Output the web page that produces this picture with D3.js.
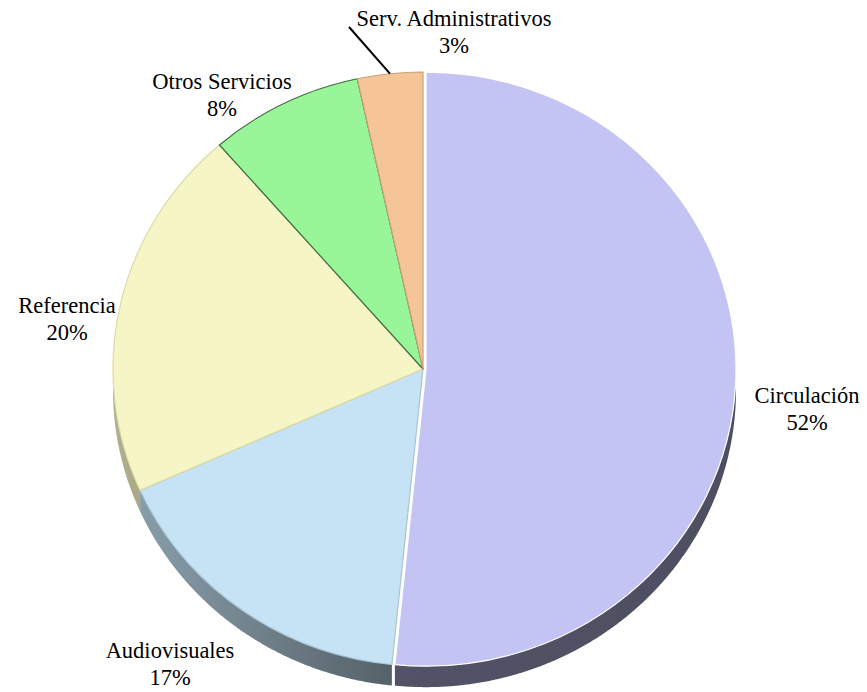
<!DOCTYPE html>
<html>
<head>
<meta charset="utf-8">
<script src="https://cdn.jsdelivr.net/npm/d3@7"></script>
<style>
  html, body { margin: 0; padding: 0; background: #ffffff; }
  svg { display: block; }
</style>
</head>
<body>
<svg id="chart" width="867" height="692"></svg>
<script>
// ---- data ----
const categories = ["Circulación", "Audiovisuales", "Referencia", "Otros Servicios", "Serv. Administrativos"];
const values = [51.6, 16.7, 20.3, 8.0, 3.4];
const percentLabels = ["52%", "17%", "20%", "8%", "3%"];
const colors = ["#c4c4f4", "#c5e3f4", "#f5f5c5", "#98f598", "#f5c598"];
const edgeColors = ["#ffffff", "#a9c3d3", "#dcdba6", "#3f6a3f", "#c9a07a"];

// ---- layout ----
const svg = d3.select("#chart");
const cx = 423, cy = 369, rx = 310, ry = 297, depth = 21;
const explodeIdx = 0, explodeDist = 3;
const FONT = "'Liberation Serif', 'DejaVu Serif', 'Times New Roman', serif";

const pie = d3.pie().sort(null).value(d => d.v).startAngle(0).endAngle(2 * Math.PI);
const data = categories.map((c, i) => ({ name: c, v: values[i], pct: percentLabels[i], color: colors[i], edge: edgeColors[i], i }));
const arcs = pie(data);

function offset(d) {
  if (d.data.i !== explodeIdx) return [0, 0];
  const mid = (d.startAngle + d.endAngle) / 2;
  return [explodeDist * Math.sin(mid), -explodeDist * Math.cos(mid)];
}

// shading factor for side walls (light from the left)
const shade = d3.scaleLinear().domain([cx - rx, 400, cx + rx]).range([0.72, 0.42, 0.40]).clamp(true);
function scaleColor(c, k) {
  const col = d3.rgb(c);
  return d3.rgb(col.r * k, col.g * k, col.b * k).formatHex();
}

const defs = svg.append("defs");
arcs.forEach((d, i) => {
  const g = defs.append("linearGradient").attr("id", "side" + i)
    .attr("gradientUnits", "userSpaceOnUse")
    .attr("x1", cx - rx).attr("x2", cx + rx).attr("y1", 0).attr("y2", 0);
  d3.range(0, 1.0001, 0.05).forEach(t => {
    const x = cx - rx + t * 2 * rx;
    g.append("stop").attr("offset", t).attr("stop-color", scaleColor(d.data.color, shade(x)));
  });
});

// ---- side walls ----
const sideG = svg.append("g");
arcs.forEach((d, i) => {
  const a0 = Math.max(d.startAngle, Math.PI / 2);
  const a1 = Math.min(d.endAngle, 3 * Math.PI / 2);
  if (a1 <= a0) return;
  const [ox, oy] = offset(d);
  const angles = d3.range(a0, a1, 0.005).concat([a1]);
  const top = angles.map(a => [cx + ox + rx * Math.sin(a), cy + oy - ry * Math.cos(a)]);
  const bottom = angles.slice().reverse().map(a => [cx + ox + rx * Math.sin(a), cy + oy + depth - ry * Math.cos(a)]);
  sideG.append("path")
    .attr("d", d3.line()(top.concat(bottom)) + "Z")
    .attr("fill", "url(#side" + i + ")");
});

// ---- top faces ----
const arc = d3.arc().innerRadius(0).outerRadius(rx);
const topG = svg.append("g");
arcs.forEach((d, i) => {
  const [ox, oy] = offset(d);
  topG.append("path")
    .attr("transform", `translate(${cx + ox},${cy + oy}) scale(1,${ry / rx})`)
    .attr("d", arc(d))
    .attr("fill", d.data.color)
    .attr("stroke", d.data.edge)
    .attr("stroke-width", 1.2)
    .attr("vector-effect", "non-scaling-stroke")
    .attr("stroke-linejoin", "round");
});

// ---- labels ----
const labelPos = [
  { x: 807, y: 403 },
  { x: 170, y: 658 },
  { x: 67, y: 313 },
  { x: 222, y: 89 },
  { x: 454, y: 26 }
];
const fs = 22.5, lh = 26.5;
const lblG = svg.append("g");
arcs.forEach((d, i) => {
  const p = labelPos[i];
  const t = lblG.append("text")
    .attr("text-anchor", "middle")
    .attr("font-family", FONT)
    .attr("font-size", fs)
    .attr("fill", "#000");
  t.append("tspan").attr("x", p.x).attr("y", p.y).text(d.data.name);
  t.append("tspan").attr("x", p.x).attr("y", p.y + lh).text(d.data.pct);
});

// leader line for the small slice
const small = arcs[4];
const midS = (small.startAngle + small.endAngle) / 2;
const lx1 = cx + rx * Math.sin(midS), ly1 = cy - ry * Math.cos(midS);
svg.append("line")
  .attr("x1", 349).attr("y1", 27)
  .attr("x2", lx1).attr("y2", ly1)
  .attr("stroke", "#000").attr("stroke-width", 2);
</script>
</body>
</html>
